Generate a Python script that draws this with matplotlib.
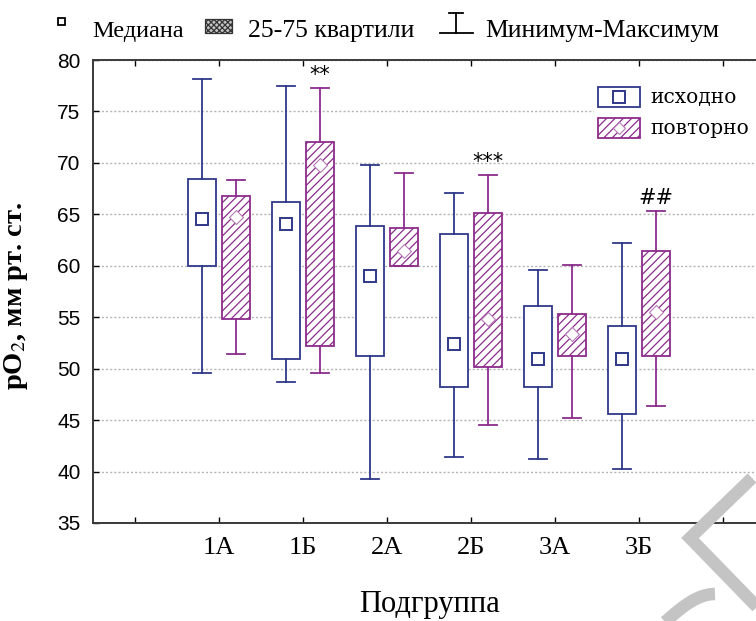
import numpy as np
import matplotlib
matplotlib.use("Agg")
import matplotlib.pyplot as plt
from matplotlib.patches import Rectangle
from matplotlib.lines import Line2D

plt.rcParams['mathtext.fontset'] = 'stix'
plt.rcParams['hatch.linewidth'] = 0.9

# data
groups = ['1А', '1Б', '2А', '2Б', '3А', '3Б']

# исходно (baseline)
base_max = [78.2, 77.5, 69.8, 67.1, 59.6, 62.2]
base_q3 = [68.4, 66.2, 63.9, 63.1, 56.1, 54.1]
base_med = [64.5, 64.1, 59.0, 52.4, 50.9, 50.9]
base_q1 = [60.0, 50.9, 51.2, 48.2, 48.2, 45.6]
base_min = [49.6, 48.7, 39.3, 41.4, 41.2, 40.2]

# повторно (repeat)
rep_max = [68.3, 77.3, 69.0, 68.8, 60.1, 65.3]
rep_q3 = [66.8, 72.0, 63.7, 65.1, 55.3, 61.4]
rep_med = [64.7, 69.8, 61.4, 54.8, 53.4, 55.5]
rep_q1 = [54.8, 52.2, 60.0, 50.2, 51.2, 51.2]
rep_min = [51.4, 49.6, 60.0, 44.5, 45.2, 46.4]

marks = {1: '**', 3: '***', 5: '##'}   # index of group -> text over "повторно"

blue = '#2e3888'
purple = '#8c2c8c'
serif = 'Liberation Serif'


def stats(lo, q1, med, q3, hi):
    return [dict(whislo=a, q1=b, med=c, q3=d, whishi=e, fliers=[])
            for a, b, c, d, e in zip(lo, q1, med, q3, hi)]


fig = plt.figure(figsize=(7.56, 6.21), dpi=100)
# right part of the frame is cut off in the original
ax = fig.add_axes([93 / 756, 98 / 621, 672 / 756, 463 / 621])

x = np.arange(1, len(groups) + 1)
off = 0.2
w = 0.33

ax.bxp(stats(base_min, base_q1, base_med, base_q3, base_max), positions=x - off,
       widths=w, capwidths=0.22, showfliers=False, patch_artist=True,
       boxprops=dict(facecolor='white', edgecolor=blue, linewidth=1.3),
       whiskerprops=dict(color=blue, linewidth=1.3),
       capprops=dict(color=blue, linewidth=1.3),
       medianprops=dict(linestyle='none'))
ax.bxp(stats(rep_min, rep_q1, rep_med, rep_q3, rep_max), positions=x + off,
       widths=w, capwidths=0.22, showfliers=False, patch_artist=True,
       boxprops=dict(facecolor='white', edgecolor=purple, linewidth=1.3, hatch='////'),
       whiskerprops=dict(color=purple, linewidth=1.3),
       capprops=dict(color=purple, linewidth=1.3),
       medianprops=dict(linestyle='none'))

# median markers
ax.plot(x - off, base_med, 's', ms=9, mfc='white', mec=blue, mew=1.4, ls='none', zorder=4)
ax.plot(x + off, rep_med, 'D', ms=7, mfc='white', mec='#b47ab4', mew=0.8, ls='none', zorder=4)

for i, t in marks.items():
    ax.text(x[i] + off, rep_max[i] + 0.3, t, ha='center', va='bottom',
            fontsize=15, family='DejaVu Sans')

ax.set_xlim(-0.5, 7.5)
ax.set_ylim(35, 80)
ax.set_xticks(np.arange(0, 8))
ax.set_xticklabels([''] + groups + [''], family=serif, fontsize=19)
ax.set_yticks(np.arange(35, 81, 5))
ax.set_yticklabels([str(v) for v in range(35, 81, 5)],
                   family=['Liberation Sans Narrow', 'Liberation Sans'], fontsize=15)
ax.tick_params(axis='x', direction='in', top=True, length=4, width=1, pad=10)
ax.tick_params(axis='y', direction='in', length=4, width=1, pad=9)
ax.yaxis.grid(True, color='#b5b5b5', linestyle=(0, (1.5, 1.5)), linewidth=1)
ax.set_axisbelow(True)
for s in ax.spines.values():
    s.set_color('#3a3a3a')
    s.set_linewidth(1.4)

ax.set_ylabel(r'pO$_2$, мм рт. ст.', family=serif, fontsize=20.5, fontweight='bold')
ax.yaxis.set_label_coords(-0.094, 0.49)
ax.set_xlabel('Подгруппа', family=serif, fontsize=22, va='center')
ax.xaxis.set_label_coords(0.5, -0.177)

# overlay in pixel coords for the legends and the watermark
ov = fig.add_axes([0, 0, 1, 1], zorder=5)
ov.set_xlim(0, 756)
ov.set_ylim(621, 0)
ov.axis('off')
ov.patch.set_alpha(0)

# top legend
ov.add_patch(Rectangle((58, 18), 7, 7, fill=False, ec='black', lw=1.3))
ov.text(92, 31, 'Медиана', family=serif, fontsize=17.5, va='center')
ov.add_patch(Rectangle((205, 19), 27, 14, fc='#c4c4c4', ec='#333333', lw=0.9, hatch='xxxxxx'))
ov.text(248, 31, '25-75 квартили', family=serif, fontsize=18.5, va='center')
ov.add_line(Line2D([456, 456], [13, 33], color='black', lw=1.3))
ov.add_line(Line2D([449, 463], [13, 13], color='black', lw=1.3))
ov.add_line(Line2D([440, 473], [33, 33], color='black', lw=1.3))
ov.text(485, 31, 'Минимум-Максимум', family=serif, fontsize=18.5, va='center')

# inner legend
ov.add_patch(Rectangle((594, 82), 170, 60, fc='white', ec='none'))
ov.add_patch(Rectangle((598, 87), 42, 20, fc='white', ec=blue, lw=1.3))
ov.plot([619], [97], 's', ms=8, mfc='white', mec=blue, mew=1.4)
ov.add_patch(Rectangle((598, 118), 42, 20, fc='white', ec=purple, lw=1.3, hatch='////'))
ov.plot([619], [128], 'D', ms=6.5, mfc='white', mec='#b47ab4', mew=0.8)
ov.text(650, 98, 'исходно', family='DejaVu Serif', fontsize=14.5, va='center')
ov.text(650, 129, 'повторно', family='DejaVu Serif', fontsize=14.5, va='center')

# grey watermark strokes in the corner
ov.add_line(Line2D([752, 690, 760], [478, 538, 610], color='#c4c4c4', lw=9,
                   solid_joinstyle='miter', solid_capstyle='butt'))
t = np.linspace(0, 1, 20)
ov.plot(665 + 50 * t, 622 - 28 * np.sin(t * np.pi / 2), color='#c4c4c4', lw=9,
        solid_capstyle='butt')

fig.savefig('out.png', dpi=100)
